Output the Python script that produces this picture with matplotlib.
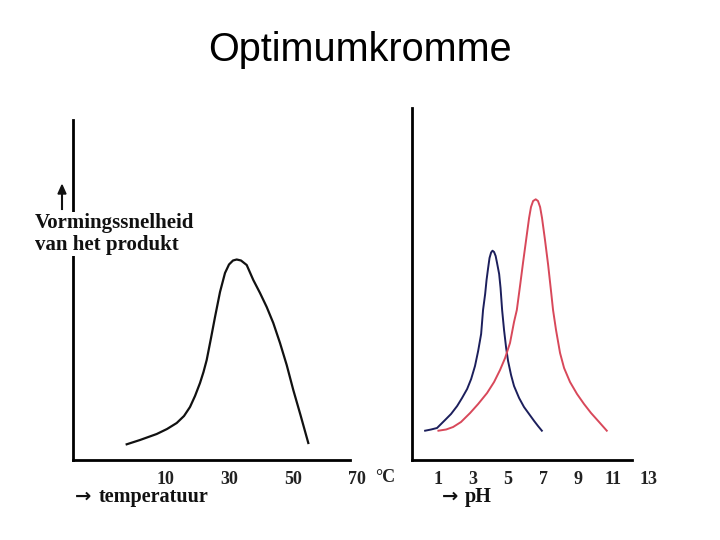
import matplotlib.pyplot as plt

# temperatuur-curve (schematisch)
temp_c = [-1.97, 2.19, 7.41, 10.63, 13.66, 15.94, 17.81, 19.38, 20.94, 22.03, 23.03, 24.38,
          25.63, 27.19, 28.75, 30.0, 31.25, 32.41, 33.75, 35.53, 37.59, 39.69, 41.78, 43.84,
          45.94, 48.03, 50.09, 52.34, 54.78]
rate_t = [15.7, 20, 26, 31, 37, 44, 53, 64, 77, 88, 100, 122,
          143, 168, 187, 195.5, 199.5, 200.5, 199.5, 195, 180, 167, 153, 137,
          117, 95, 70, 45, 17]

# pH-curves
ph_blue = [0.26, 0.60, 0.94, 1.17, 1.40, 1.74, 2.09, 2.37, 2.66, 2.89, 3.11, 3.29, 3.46,
           3.57, 3.69, 3.77, 3.86, 3.94, 4.03, 4.11, 4.20, 4.29, 4.37, 4.49, 4.57, 4.66,
           4.77, 4.89, 5.00, 5.17, 5.34, 5.63, 5.91, 6.20, 6.49, 6.71, 6.93]
rate_blue = [29.3, 30.5, 32, 36, 40, 46, 54, 62, 71, 81, 94, 109, 126,
             150, 166, 180, 192, 202, 207.5, 209.3, 208, 204, 197, 186, 172, 150,
             130, 112, 99, 85, 74, 62, 53, 46, 39, 34, 29.3]
ph_red = [1.02, 1.46, 1.86, 2.31, 2.83, 3.29, 3.80, 4.20, 4.54, 4.83, 5.11, 5.34, 5.50,
          5.69, 5.86, 6.03, 6.20, 6.31, 6.43, 6.58, 6.71, 6.83, 6.94, 7.11, 7.29, 7.46,
          7.57, 7.74, 7.97, 8.20, 8.54, 8.94, 9.34, 9.74, 10.20, 10.64]
rate_red = [29.3, 30.5, 33, 38, 47, 56, 67, 78, 90, 102, 117, 138, 150,
            175, 198, 220, 242, 253, 259, 260.7, 259, 253, 242, 220, 195, 168,
            150, 130, 107, 92, 78, 66, 56, 47, 38, 29.3]

temp_ticks = [10, 30, 50, 70]
ph_ticks = [1, 3, 5, 7, 9, 11, 13]

W, H = 720, 540
fig = plt.figure(figsize=(7.2, 5.4), dpi=100)
fig.patch.set_facecolor('white')

serif = 'Liberation Serif'

# linker paneel: 3.2 px per graad, x=0 op px 133
t_lo, t_hi = -18.75, 82.0
axL = fig.add_axes([73 / W, 1 - 460 / H, (t_hi - t_lo) * 3.2 / W, 340 / H])
axL.set_xlim(t_lo, t_hi)
axL.set_ylim(0, 340)
axL.plot(temp_c, rate_t, color='#111111', lw=1.6, solid_joinstyle='round')

# rechter paneel: 17.5 px per pH-eenheid, pH 0 op px 420.5
p_lo, p_hi = -0.49, 13.5
axR = fig.add_axes([412 / W, 1 - 460 / H, (p_hi - p_lo) * 17.5 / W, 352 / H])
axR.set_xlim(p_lo, p_hi)
axR.set_ylim(0, 352)
axR.plot(ph_blue, rate_blue, color='#1c1f5c', lw=1.4, solid_joinstyle='round')
axR.plot(ph_red, rate_red, color='#d8485a', lw=1.4, solid_joinstyle='round')

for ax, right_end, ticks in [(axL, 67.8, temp_ticks), (axR, 12.1, ph_ticks)]:
    ax.patch.set_alpha(0)
    for s in ['top', 'right']:
        ax.spines[s].set_visible(False)
    ax.spines['left'].set_linewidth(2)
    ax.spines['bottom'].set_linewidth(2)
    ax.spines['bottom'].set_bounds(ax.get_xlim()[0], right_end)
    ax.set_yticks([])
    ax.set_xticks(ticks)
    ax.set_xticklabels([str(t) for t in ticks], fontfamily=serif, fontweight='bold',
                       fontsize=13, color='#222222')
    ax.tick_params(axis='x', length=0, pad=8)

fig.text(385 / W, 1 - 478 / H, '°C', fontfamily=serif, fontweight='bold', fontsize=13,
         ha='center', va='center', color='#222222')

# pijltjes los in DejaVu (Liberation heeft een klein pijltje)
fig.text(75 / W, 1 - 496 / H, '→', fontfamily='DejaVu Sans', fontweight='bold',
         fontsize=14, ha='left', va='center', color='#111111')
fig.text(99 / W, 1 - 497 / H, 'temperatuur', fontfamily=serif, fontweight='bold',
         fontsize=14.5, ha='left', va='center', color='#111111')
fig.text(442 / W, 1 - 496 / H, '→', fontfamily='DejaVu Sans', fontweight='bold',
         fontsize=14, ha='left', va='center', color='#111111')
fig.text(465 / W, 1 - 497 / H, 'pH', fontfamily=serif, fontweight='bold',
         fontsize=14.5, ha='left', va='center', color='#111111')

fig.text(35 / W, 1 - 223 / H, 'Vormingssnelheid', fontfamily=serif, fontweight='bold',
         fontsize=15, ha='left', va='center', color='#111111',
         bbox=dict(facecolor='white', edgecolor='none', pad=0.5))
fig.text(35 / W, 1 - 245 / H, 'van het produkt', fontfamily=serif, fontweight='bold',
         fontsize=15, ha='left', va='center', color='#111111',
         bbox=dict(facecolor='white', edgecolor='none', pad=0.5))
fig.add_artist(plt.Line2D([62 / W, 62 / W], [1 - 209 / H, 1 - 192 / H], color='#111111', lw=1.5))
fig.patches.append(plt.Polygon([[58 / W, 1 - 194 / H], [66 / W, 1 - 194 / H], [62 / W, 1 - 185 / H]],
                               closed=True, color='#111111', transform=fig.transFigure, figure=fig))

fig.text(0.5, 1 - 50 / H, 'Optimumkromme', fontfamily='Liberation Sans', fontsize=28.5,
         ha='center', va='center', color='black')

fig.savefig('out.png', dpi=100)
